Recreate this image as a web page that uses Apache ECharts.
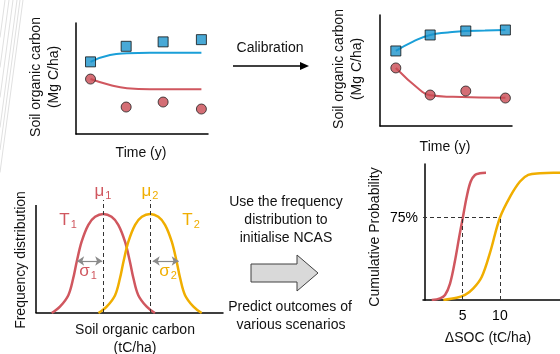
<!DOCTYPE html>
<html><head><meta charset="utf-8">
<script src="https://cdn.jsdelivr.net/npm/echarts@6/dist/echarts.min.js"></script>
<style>html,body{margin:0;padding:0;background:#fff}#c{width:560px;height:354px}</style>
</head><body><div id="c"></div>
<script>
// ---- Top-left: observed vs uncalibrated model ----
const tlX = [1.1, 3.8, 6.6, 9.5];
const tlBlueObs = [6.5, 7.9, 8.3, 8.5];
const tlRedObs = [4.95, 2.43, 2.88, 2.25];
const tlFitX = [1.1, 2.58, 3.86, 5.6, 9.5];
const tlBlueFit = [6.5, 7.12, 7.27, 7.32, 7.32];
const tlRedFit = [4.95, 4.41, 4.12, 4.03, 4.03];
// ---- Top-right: calibrated model ----
const trX = [1.2, 3.8, 6.5, 9.5];
const trBlueObs = [6.76, 8.2, 8.56, 8.65];
const trRedObs = [5.23, 2.79, 3.15, 2.52];
const trBlueFitX = [1.2, 2.5, 3.8, 5.15, 6.5, 7.95, 9.5];
const trBlueFit = [6.76, 7.6, 8.2, 8.42, 8.56, 8.6, 8.65];
const trRedFitX = [1.2, 3.03, 3.79, 5.53, 9.5];
const trRedFit = [5.23, 3.24, 2.76, 2.63, 2.55];
// ---- Bottom-left: frequency distributions ----
const t1X = [8.4, 12.8, 17.3, 19.9, 21.8, 24.4, 28.0, 31.6, 36.0, 40.4, 44.0, 47.6, 50.2, 52.1, 54.7, 59.2, 63.6];
const t1Y = [0, 0.064, 0.18, 0.35, 0.52, 0.72, 0.89, 0.97, 1.0, 0.97, 0.89, 0.72, 0.52, 0.35, 0.18, 0.064, 0];
const t2X = [33.4, 37.8, 42.3, 44.9, 46.8, 49.4, 53.0, 56.6, 61.0, 65.4, 69.0, 72.6, 75.2, 77.1, 79.7, 84.2, 88.6];
const t2Y = [0, 0.064, 0.18, 0.35, 0.52, 0.72, 0.89, 0.97, 1.0, 0.97, 0.89, 0.72, 0.52, 0.35, 0.18, 0.064, 0];
const mu = [36.0, 61.0];
const sigma1 = [22.0, 35.4], sigma2 = [62.4, 76.3], sigmaLevel = 0.525;
// ---- Bottom-right: cumulative probability ----
const cdfRedX = [0.87, 1.98, 2.65, 3.32, 3.99, 4.56, 5.02, 5.55, 6.09, 6.66, 7.33, 8.14];
const cdfRedY = [0.0, 0.015, 0.046, 0.15, 0.36, 0.58, 0.745, 0.94, 1.08, 1.14, 1.155, 1.16];
const cdfYelX = [2.42, 4.21, 5.33, 6.44, 7.56, 8.67, 10.0, 11.35, 12.69, 13.8, 15.37, 17.15, 18.05];
const cdfYelY = [0.0, 0.02, 0.046, 0.106, 0.21, 0.43, 0.75, 0.94, 1.08, 1.14, 1.155, 1.16, 1.16];
const p75 = 0.75, cdfTicks = [5, 10];

const zip = (a, b) => a.map((v, i) => [v, b[i]]);
const RED = '#d0575f', RED_M = '#c94a52', BLUE = '#1a9fd8', BLUE_M = '#1b93cc', YEL = '#f0ae00';
const FONT = 'Liberation Sans, Arial, sans-serif';
const axLine = {show: true, lineStyle: {color: '#000', width: 1.5}};
function hiddenAxis(extra) {
  return Object.assign({type: 'value', axisLine: axLine, axisTick: {show: false}, axisLabel: {show: false}, splitLine: {show: false}}, extra);
}
const chart = echarts.init(document.getElementById('c'));
const sq = {symbol: 'rect', symbolSize: 10, itemStyle: {color: BLUE_M, borderColor: '#111', borderWidth: 1}};
const ci = {symbol: 'circle', symbolSize: 10, itemStyle: {color: RED_M, borderColor: '#222', borderWidth: 1}};
const dash = {color: '#333', type: [4, 3], width: 1};
const arrowStyle = {color: '#8a8a8a', type: 'solid', width: 1.2};
const bellTop = 1.09, muTop = 1.14;
const SM = 0.35;

const option = {
  animation: false,
  textStyle: {fontFamily: FONT},
  grid: [
    {left: 76, top: 23, width: 132, height: 111},
    {left: 380, top: 15, width: 132, height: 111},
    {left: 36, top: 200, width: 187, height: 113},
    {left: 423, top: 164, right: 0, height: 136}
  ],
  xAxis: [
    hiddenAxis({gridIndex: 0, min: 0, max: 10}),
    hiddenAxis({gridIndex: 1, min: 0, max: 10}),
    hiddenAxis({gridIndex: 2, min: 0, max: 100}),
    {type: 'value', gridIndex: 3, min: -0.3, max: 18.05, axisLine: axLine, axisTick: {show: false}, splitLine: {show: false},
     axisLabel: {margin: 9, color: '#000', fontSize: 14, fontFamily: FONT, customValues: cdfTicks, formatter: v => String(v)}}
  ],
  yAxis: [
    hiddenAxis({gridIndex: 0, min: 0, max: 10}),
    hiddenAxis({gridIndex: 1, min: 0, max: 10}),
    hiddenAxis({gridIndex: 2, min: 0, max: muTop, axisLine: {show: false}}),
    {type: 'value', gridIndex: 3, min: 0, max: 1.24, axisLine: axLine, axisTick: {show: false}, splitLine: {show: false},
     axisLabel: {margin: 5, color: '#000', fontSize: 14, fontFamily: FONT, customValues: [p75], formatter: () => '75%'}}
  ],
  series: [
    {type: 'line', xAxisIndex: 0, yAxisIndex: 0, data: zip(tlFitX, tlBlueFit), smooth: true, showSymbol: false, lineStyle: {color: BLUE, width: 2}, z: 2},
    {type: 'line', xAxisIndex: 0, yAxisIndex: 0, data: zip(tlFitX, tlRedFit), smooth: true, showSymbol: false, lineStyle: {color: RED, width: 2}, z: 2},
    Object.assign({type: 'scatter', xAxisIndex: 0, yAxisIndex: 0, data: zip(tlX, tlBlueObs), z: 3}, sq),
    Object.assign({type: 'scatter', xAxisIndex: 0, yAxisIndex: 0, data: zip(tlX, tlRedObs), z: 3}, ci),
    {type: 'line', xAxisIndex: 1, yAxisIndex: 1, data: zip(trBlueFitX, trBlueFit), smooth: true, showSymbol: false, lineStyle: {color: BLUE, width: 2}, z: 2},
    {type: 'line', xAxisIndex: 1, yAxisIndex: 1, data: zip(trRedFitX, trRedFit), smooth: true, showSymbol: false, lineStyle: {color: RED, width: 2}, z: 2},
    Object.assign({type: 'scatter', xAxisIndex: 1, yAxisIndex: 1, data: zip(trX, trBlueObs), z: 3}, sq),
    Object.assign({type: 'scatter', xAxisIndex: 1, yAxisIndex: 1, data: zip(trX, trRedObs), z: 3}, ci),
    {type: 'line', xAxisIndex: 2, yAxisIndex: 2, data: zip(t1X, t1Y), smooth: SM, showSymbol: false, lineStyle: {color: RED, width: 2.5},
     markLine: {silent: true, animation: false, label: {show: false},
       data: [
         [{coord: [0, 0], symbol: 'none', lineStyle: {color: '#000', type: 'solid', width: 1.5}}, {coord: [0, bellTop], symbol: 'none'}],
         [{coord: [mu[0], 0], symbol: 'none', lineStyle: dash}, {coord: [mu[0], muTop], symbol: 'none'}],
         [{coord: [sigma1[0], sigmaLevel], symbol: 'arrow', symbolSize: [7, 7], lineStyle: arrowStyle}, {coord: [sigma1[1], sigmaLevel], symbol: 'arrow', symbolSize: [7, 7]}]
       ]}},
    {type: 'line', xAxisIndex: 2, yAxisIndex: 2, data: zip(t2X, t2Y), smooth: SM, showSymbol: false, lineStyle: {color: YEL, width: 2.5},
     markLine: {silent: true, animation: false, label: {show: false},
       data: [
         [{coord: [mu[1], 0], symbol: 'none', lineStyle: dash}, {coord: [mu[1], muTop], symbol: 'none'}],
         [{coord: [sigma2[0], sigmaLevel], symbol: 'arrow', symbolSize: [7, 7], lineStyle: arrowStyle}, {coord: [sigma2[1], sigmaLevel], symbol: 'arrow', symbolSize: [7, 7]}]
       ]}},
    {type: 'line', xAxisIndex: 3, yAxisIndex: 3, data: zip(cdfRedX, cdfRedY), smooth: SM, showSymbol: false, lineStyle: {color: RED, width: 2.5}, z: 3},
    {type: 'line', xAxisIndex: 3, yAxisIndex: 3, data: zip(cdfYelX, cdfYelY), smooth: SM, showSymbol: false, lineStyle: {color: YEL, width: 2.5}, z: 3,
     markLine: {silent: true, animation: false, label: {show: false}, symbol: 'none', lineStyle: dash,
       data: [
         [{coord: [-0.3, p75]}, {coord: [cdfTicks[1], p75]}],
         [{coord: [cdfTicks[0], 0]}, {coord: [cdfTicks[0], p75]}],
         [{coord: [cdfTicks[1], 0]}, {coord: [cdfTicks[1], p75]}]
       ]}}
  ],
  graphic: []
};

// annotation helpers
function txt(x, y, text, opts) {
  opts = opts || {};
  return {type: 'text', x: x, y: y, rotation: opts.rot || 0, silent: true,
    style: {text: text, fill: opts.color || '#111', font: (opts.size || 14) + 'px ' + FONT,
      align: 'center', verticalAlign: 'middle', textAlign: 'center', textVerticalAlign: 'middle', lineHeight: opts.lh || 17,
      rich: opts.rich}};
}
function symRich(color) {
  return {a: {fontSize: 17, fill: color, color: color, fontFamily: FONT}, s: {fontSize: 11, fill: color, color: color, fontFamily: FONT, padding: [9, 0, 0, 1]}};
}
const g = option.graphic;
// decorative lines at left edge
[5, 9, 13, 17, 20, 23].forEach(x0 => g.push({type: 'line', silent: true, shape: {x1: x0, y1: 0, x2: 0, y2: x0 * 7.5}, style: {stroke: '#e0e0e0', lineWidth: 1}}));
g.push(txt(45, 77, 'Soil organic carbon\n(Mg C/ha)', {rot: Math.PI / 2, lh: 18}));
g.push(txt(141, 153, 'Time (y)'));
g.push(txt(348, 69, 'Soil organic carbon\n(Mg C/ha)', {rot: Math.PI / 2, lh: 18}));
g.push(txt(445, 147, 'Time (y)'));
g.push(txt(270, 48, 'Calibration'));
g.push({type: 'line', silent: true, shape: {x1: 233, y1: 66, x2: 302, y2: 66}, style: {stroke: '#000', lineWidth: 1.5}});
g.push({type: 'polygon', silent: true, shape: {points: [[300, 62], [309, 66], [300, 70]]}, style: {fill: '#000'}});
g.push(txt(21, 260, 'Frequency distribution', {rot: Math.PI / 2}));
g.push(txt(135, 330, 'Soil organic carbon'));
g.push(txt(135, 348, '(tC/ha)'));
g.push(txt(103, 191, '{a|μ}{s|1}', {rich: symRich(RED)}));
g.push(txt(150, 191, '{a|μ}{s|2}', {rich: symRich(YEL)}));
g.push(txt(68, 220, '{a|T}{s|1}', {rich: symRich(RED)}));
g.push(txt(191, 220, '{a|T}{s|2}', {rich: symRich(YEL)}));
g.push(txt(88, 271, '{a|σ}{s|1}', {rich: symRich(RED)}));
g.push(txt(168, 271, '{a|σ}{s|2}', {rich: symRich(YEL)}));
g.push(txt(286, 202, 'Use the frequency'));
g.push(txt(286, 220, 'distribution to'));
g.push(txt(286, 238, 'initialise NCAS'));
g.push({type: 'polygon', silent: true, shape: {points: [[251, 264], [297, 264], [297, 255], [318, 273], [297, 291], [297, 282], [251, 282]]},
  style: {fill: '#d9d9d9', stroke: '#404040', lineWidth: 1}});
g.push(txt(290, 307, 'Predict outcomes of'));
g.push(txt(291, 325, 'various scenarios'));
g.push(txt(375, 237, 'Cumulative Probability', {rot: Math.PI / 2}));
g.push(txt(488, 338, 'ΔSOC (tC/ha)'));

chart.setOption(option);
</script></body></html>
